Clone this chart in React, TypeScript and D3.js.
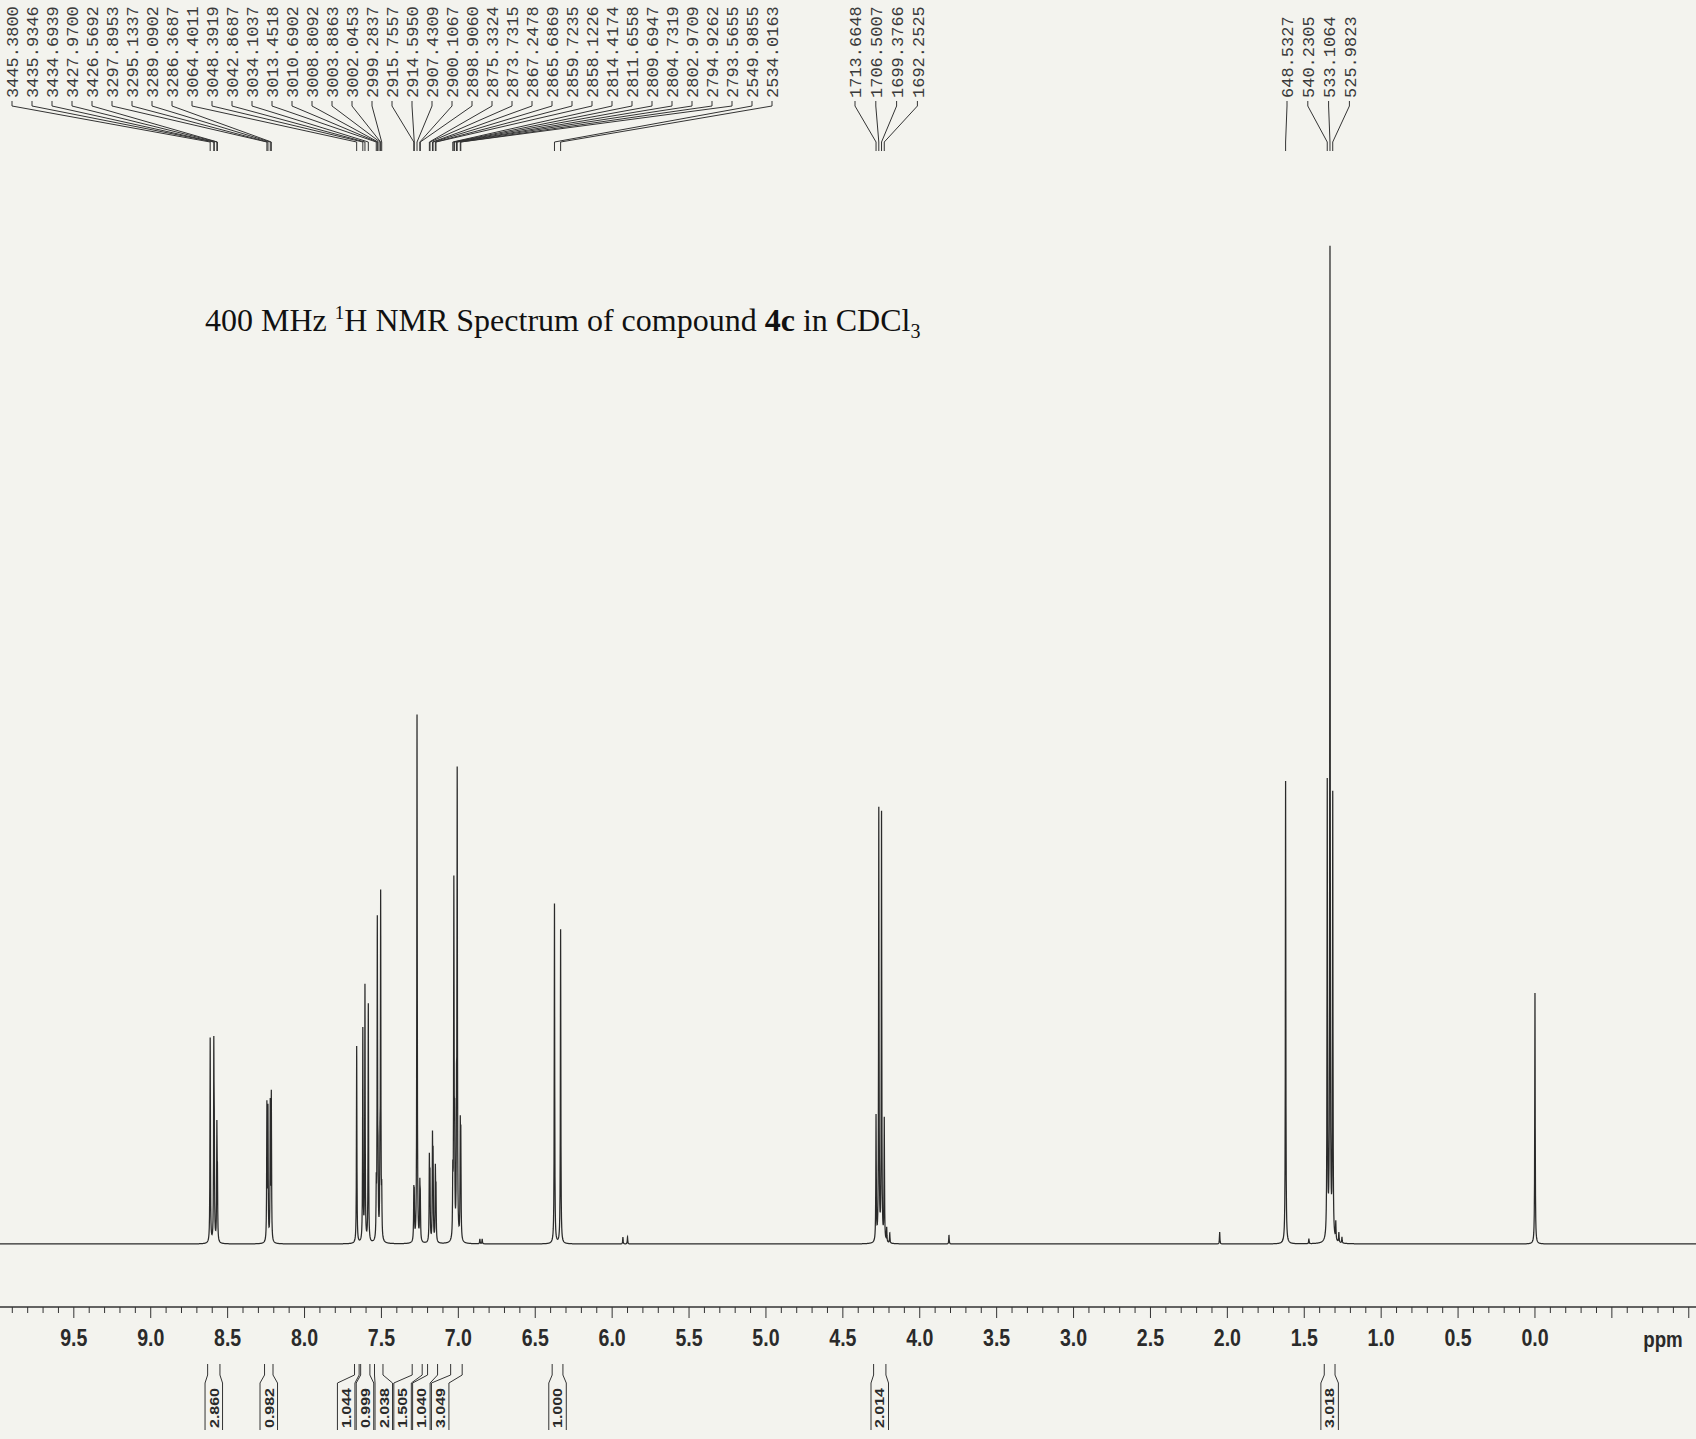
import React from "react";
import * as d3 from "d3";

const W = 1696;
const H = 1439;

// ---------------- data ----------------
const SPECTROMETER_MHZ = 400;

// labelled peak frequencies (Hz) and read intensities (arbitrary units, 0..1000)
const leftHz = [
  3445.38, 3435.9346, 3434.6939, 3427.97, 3426.5692, 3297.8953, 3295.1337, 3289.0902, 3286.3687,
  3064.4011, 3048.3919, 3042.8687, 3034.1037, 3013.4518, 3010.6902, 3008.8092, 3003.8863, 3002.0453,
  2999.2837, 2915.7557, 2914.595, 2907.4309, 2900.1067, 2898.906, 2875.3324, 2873.7315, 2867.2478,
  2865.6869, 2859.7235, 2858.1226, 2814.4174, 2811.6558, 2809.6947, 2804.7319, 2802.9709, 2794.9262,
  2793.5655, 2549.9855, 2534.0163,
];
const leftInt = [
  205, 185, 90, 110, 60, 135, 130, 135, 145,
  197, 212, 255, 238, 50, 315, 65, 75, 340,
  42, 45, 40, 528, 52, 38, 80, 62, 98,
  80, 70, 50, 60, 350, 100, 115, 458, 105,
  95, 340, 314,
];
const midHz = [1713.6648, 1706.5007, 1699.3766, 1692.2525];
const midInt = [125, 432, 428, 122];
const rightHz = [648.5327, 540.2305, 533.1064, 525.9823];
const rightInt = [463, 456, 990, 443];

// unlabelled lines (ppm): TMS and small impurities
const extraPpm = [0.0, 5.93, 5.9, 3.81, 2.05, 4.215, 4.195, 1.47, 1.295, 1.275, 1.255, 6.86, 6.845];
const extraInt = [251, 7, 7, 9, 12, 14, 10, 5, 18, 10, 6, 5, 5];

// integrals
const integralValues = ["2.860", "0.982", "1.044", "0.999", "2.038", "1.505", "1.040", "3.049", "1.000", "2.014", "3.018"];
const integralFrom = [8.63, 8.26, 7.675, 7.635, 7.545, 7.3, 7.2, 7.05, 6.39, 4.3, 1.37];
const integralTo = [8.55, 8.205, 7.645, 7.575, 7.49, 7.235, 7.135, 6.975, 6.32, 4.22, 1.3];

// axis
const axisLabelValues = [9.5, 9.0, 8.5, 8.0, 7.5, 7.0, 6.5, 6.0, 5.5, 5.0, 4.5, 4.0, 3.5, 3.0, 2.5, 2.0, 1.5, 1.0, 0.5, 0.0];

// ---------------- component ----------------
export default function App() {
  const x = d3.scaleLinear().domain([9.98, -1.047]).range([0, W]);
  const y = d3.scaleLinear().domain([0, 1000]).range([1244, 244]);

  const lines: { ppm: number; h: number }[] = [];
  leftHz.forEach((hz, i) => lines.push({ ppm: hz / SPECTROMETER_MHZ, h: leftInt[i] }));
  midHz.forEach((hz, i) => lines.push({ ppm: hz / SPECTROMETER_MHZ, h: midInt[i] }));
  rightHz.forEach((hz, i) => lines.push({ ppm: hz / SPECTROMETER_MHZ, h: rightInt[i] }));
  extraPpm.forEach((p, i) => lines.push({ ppm: p, h: extraInt[i] }));

  const hw = 0.0017; // Lorentzian half width (ppm)
  const grid: number[] = d3.range(0, W + 0.01, 0.25).map((px) => x.invert(px));
  lines.forEach((l) => grid.push(l.ppm));
  grid.sort((a, b) => b - a);
  const spec: [number, number][] = grid.map((p) => {
    let s = 0;
    for (const l of lines) {
      const d = p - l.ppm;
      s += (l.h * hw * hw) / (d * d + hw * hw);
    }
    return [p, s];
  });
  const line = d3
    .line<[number, number]>()
    .x((d) => x(d[0]))
    .y((d) => y(d[1]));

  const axisY = 1307;
  const ticks = d3.range(-10, 100).map((k) => k / 10).filter((t) => x(t) >= 0 && x(t) <= W);

  // top peak labels
  const monoFont = "'Liberation Mono', 'DejaVu Sans Mono', monospace";
  const topGroups = [
    { hz: leftHz, start: 12, step: 20.0 },
    { hz: midHz, start: 855, step: 20.8 },
    { hz: rightHz, start: 1287, step: 20.8 },
  ];

  // integral label layout (clusters)
  const step = 18.8;
  const centers = integralFrom.map((f, i) => (x(f) + x(integralTo[i])) / 2);
  const clusters: number[][] = [];
  centers.forEach((c, i) => {
    const last = clusters[clusters.length - 1];
    if (last && c - centers[last[last.length - 1]] < 45) last.push(i);
    else clusters.push([i]);
  });
  const labelX: number[] = [];
  clusters.forEach((cl) => {
    const mean = d3.mean(cl, (i) => centers[i]) as number;
    const mid = mean - 8;
    cl.forEach((i, k) => {
      labelX[i] = cl.length === 1 ? centers[i] : mid + (k - (cl.length - 1) / 2) * step;
    });
  });
  const boxW = 17.5;

  const sans = "'Liberation Sans', Arial, sans-serif";

  return (
    <svg
      width={W}
      height={H}
      style={{ position: "absolute", left: 0, top: 0, display: "block" }}
      xmlns="http://www.w3.org/2000/svg"
    >
      <rect x={0} y={0} width={W} height={H} fill="#f3f3ee" />

      {/* top peak labels */}
      {topGroups.map((g, gi) => (
        <g key={gi}>
          {g.hz.map((hz, i) => {
            const lx = g.start + i * g.step;
            const px = x(hz / SPECTROMETER_MHZ);
            return (
              <g key={i}>
                <text
                  transform={`translate(${lx},98) rotate(-90)`}
                  dy="0.36em"
                  fontFamily={monoFont}
                  fontSize={17}
                  fill="#3a3a3a"
                >
                  {hz.toFixed(4)}
                </text>
                <path
                  d={`M${lx},101 L${lx},106 L${px},142 L${px},151`}
                  fill="none"
                  stroke="#333"
                  strokeWidth={1}
                />
              </g>
            );
          })}
        </g>
      ))}

      {/* title */}
      <text x={205} y={331} fontFamily="'Liberation Serif', 'Times New Roman', serif" fontSize={32} fill="#111">
        <tspan>400 MHz </tspan>
        <tspan fontSize={19} dy={-12}>1</tspan>
        <tspan dy={12}>H NMR Spectrum of compound </tspan>
        <tspan fontWeight="bold">4c</tspan>
        <tspan> in CDCl</tspan>
        <tspan fontSize={20} dy={7}>3</tspan>
      </text>

      {/* spectrum */}
      <path d={line(spec) || ""} fill="none" stroke="#2a2a2a" strokeWidth={1.25} />

      {/* axis */}
      <line x1={0} x2={W} y1={axisY} y2={axisY} stroke="#333" strokeWidth={1.6} />
      {ticks.map((t, i) => {
        const major = Math.abs(Math.round(t * 10) % 5) === 0;
        return (
          <line
            key={i}
            x1={x(t)}
            x2={x(t)}
            y1={axisY}
            y2={axisY + (major ? 11 : 6)}
            stroke="#333"
            strokeWidth={1}
          />
        );
      })}
      {axisLabelValues.map((v, i) => (
        <text
          key={i}
          transform={`translate(${x(v)},1346) scale(0.85,1)`}
          textAnchor="middle"
          fontFamily={sans}
          fontWeight="bold"
          fontSize={23}
          fill="#2a2a2a"
        >
          {v.toFixed(1)}
        </text>
      ))}
      <text
        transform="translate(1663,1347) scale(0.85,1)"
        textAnchor="middle"
        fontFamily={sans}
        fontWeight="bold"
        fontSize={22}
        fill="#2a2a2a"
      >
        ppm
      </text>

      {/* integrals */}
      {integralValues.map((v, i) => {
        const xl = x(integralFrom[i]);
        const xr = x(integralTo[i]);
        const bl = labelX[i] - boxW / 2;
        const br = labelX[i] + boxW / 2;
        return (
          <g key={i}>
            <path
              d={`M${xl},1364 L${xl},1375 L${bl},1383 L${bl},1430 M${xr},1364 L${xr},1375 L${br},1383 L${br},1430`}
              fill="none"
              stroke="#333"
              strokeWidth={1}
            />
            <text
              transform={`translate(${labelX[i]},1408) rotate(-90) scale(1,0.82)`}
              textAnchor="middle"
              dy="0.36em"
              fontFamily={sans}
              fontWeight="bold"
              fontSize={16}
              fill="#2a2a2a"
            >
              {v}
            </text>
          </g>
        );
      })}
    </svg>
  );
}
